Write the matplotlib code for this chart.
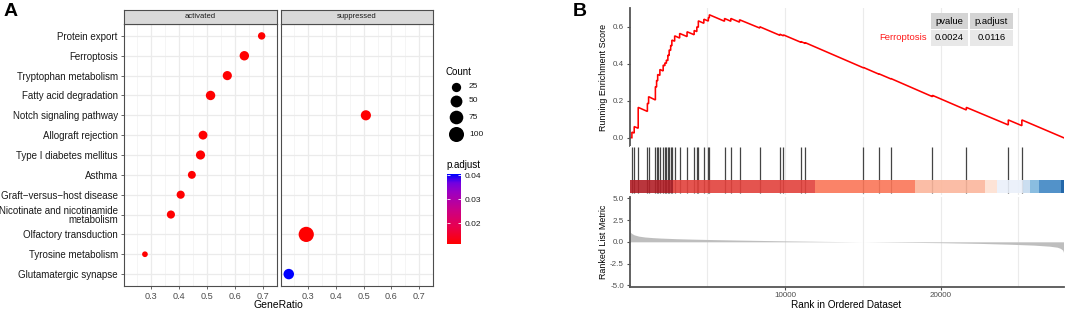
import numpy as np
import matplotlib
matplotlib.use("Agg")
import matplotlib.pyplot as plt
from matplotlib.colors import LinearSegmentedColormap, Normalize
from matplotlib.patches import Rectangle
import matplotlib as mpl

plt.rcParams['font.family'] = ['Liberation Sans', 'DejaVu Sans']

# ---------------- data: panel A (dot plot) ----------------
pathways = ["Protein export", "Ferroptosis", "Tryptophan metabolism",
            "Fatty acid degradation", "Notch signaling pathway",
            "Allograft rejection", "Type I diabetes mellitus", "Asthma",
            "Graft\u2212versus\u2212host disease",
            "Nicotinate and nicotinamide\nmetabolism",
            "Olfactory transduction", "Tyrosine metabolism",
            "Glutamatergic synapse"]
group = ["activated", "activated", "activated", "activated", "suppressed",
         "activated", "activated", "activated", "activated", "activated",
         "suppressed", "activated", "suppressed"]
gene_ratio = [0.695, 0.633, 0.572, 0.512, 0.508, 0.485, 0.476, 0.445,
              0.405, 0.370, 0.293, 0.277, 0.230]
counts = [15, 26, 24, 26, 32, 22, 24, 17, 18, 18, 103, 12, 35]
p_adjust = [0.0114, 0.0116, 0.0116, 0.0116, 0.0116, 0.0116, 0.0116, 0.0116,
            0.0116, 0.0116, 0.0114, 0.0116, 0.0403]
facets = ["activated", "suppressed"]
x_ticks_a = [0.3, 0.4, 0.5, 0.6, 0.7]
count_breaks = [25, 50, 75, 100]
padj_breaks = [0.02, 0.03, 0.04]

# ---------------- data: panel B (GSEA plot) ----------------
n_genes = 27900
hit_rank = [154, 302, 559, 1150, 1227, 1664, 1741, 1811, 1953, 2165, 2274,
            2370, 2466, 2550, 2646, 2723, 2903, 3224, 3700, 4156, 4329, 4425,
            4779, 5068, 5132, 6108, 6513, 7072, 8376, 9660, 9898, 11022,
            11298, 15036, 16051, 16803, 19475, 21652, 24350, 25223]
es_before = [0.000, 0.025, 0.051, 0.142, 0.184, 0.204, 0.274, 0.308, 0.337,
             0.361, 0.389, 0.402, 0.417, 0.444, 0.472, 0.497, 0.522, 0.539,
             0.547, 0.557, 0.574, 0.597, 0.619, 0.631, 0.648, 0.630, 0.630,
             0.625, 0.593, 0.554, 0.551, 0.516, 0.510, 0.378, 0.343, 0.318,
             0.222, 0.150, 0.069, 0.065]
es_after = [0.030, 0.060, 0.164, 0.186, 0.222, 0.276, 0.310, 0.342, 0.369,
            0.393, 0.405, 0.420, 0.447, 0.475, 0.500, 0.528, 0.551, 0.564,
            0.573, 0.580, 0.600, 0.632, 0.641, 0.650, 0.665, 0.645, 0.645,
            0.638, 0.600, 0.560, 0.556, 0.520, 0.514, 0.380, 0.345, 0.320,
            0.229, 0.164, 0.096, 0.096]
es_start, es_end = 0.0, 0.0

metric_rank = [0, 50, 150, 300, 600, 1000, 1500, 2000, 3000, 4000, 5000, 7000,
               10000, 12500, 14500, 15500, 17500, 20000, 22500, 24500, 26000,
               27000, 27500, 27700, 27850, 27900]
metric_val = [1.4, 1.1, 0.95, 0.8, 0.65, 0.55, 0.48, 0.43, 0.36, 0.31, 0.27,
              0.2, 0.11, 0.05, 0.01, -0.01, -0.05, -0.1, -0.18, -0.28, -0.38,
              -0.5, -0.62, -0.75, -0.95, -1.2]

bar_edges = [0, 2770, 11930, 18350, 22830, 23600, 25270, 25740, 26320, 27710, 27900]
bar_colors = ['#B22028', '#E2413C', '#FA7658', '#FBB69C', '#FDE0D2',
              '#EAF0FA', '#C6DBEF', '#7DB6DD', '#3F86C4', '#0B56A0']

table_term = "Ferroptosis"
table_cols = ["pvalue", "p.adjust"]
table_vals = ["0.0024", "0.0116"]

# ---------------- figure ----------------
W, H = 1065, 311
fig = plt.figure(figsize=(W / 100, H / 100), dpi=100)


def px_axes(x0, y0, x1, y1, **kw):
    return fig.add_axes([x0 / W, 1 - y1 / H, (x1 - x0) / W, (y1 - y0) / H], **kw)


# colour scale red -> blue (Lab-like interpolation)
cmap = LinearSegmentedColormap.from_list(
    "rb", [(0, (1, 0, 0)), (0.25, (232/255, 0, 79/255)), (0.5, (201/255, 0, 137/255)),
           (0.75, (154/255, 0, 195/255)), (0.875, (115/255, 0, 224/255)), (1, (0, 0, 1))])
norm = Normalize(vmin=min(p_adjust), vmax=max(p_adjust))

cmin, cmax = min(counts), max(counts)


def size_px(c):
    t = np.clip((np.asarray(c, float) - cmin) / (cmax - cmin), 0, 1)
    return 1.9 * (3 + 5 * np.sqrt(t))


def s_area(c):
    return (size_px(c) * 0.72) ** 2


n = len(pathways)
ypos = {p: n - 1 - i for i, p in enumerate(pathways)}
panel_x = {"activated": (124, 277), "suppressed": (281, 433)}
for fi, fac in enumerate(facets):
    x0, x1 = panel_x[fac]
    ax = px_axes(x0, 24, x1, 286)
    ax.set_xlim(0.202, 0.727)
    ax.set_ylim(-0.6, n - 1 + 0.6)
    ax.set_xticks(x_ticks_a)
    ax.set_xticklabels([f"{v:.1f}" for v in x_ticks_a])
    ax.set_xticks([0.25, 0.35, 0.45, 0.55, 0.65, 0.75], minor=True)
    ax.set_yticks(list(range(n)))
    ax.grid(which='major', color='#EBEBEB', lw=0.9)
    ax.grid(which='minor', axis='x', color='#F2F2F2', lw=0.5)
    ax.set_axisbelow(True)
    for s in ax.spines.values():
        s.set_color('#4D4D4D')
        s.set_linewidth(0.8)
    ax.tick_params(axis='both', which='major', length=2.5, width=0.6,
                   color='#4D4D4D', labelsize=6.6, labelcolor='#4D4D4D', pad=2)
    ax.tick_params(axis='x', which='minor', length=0)
    if fi == 0:
        ax.set_yticklabels([pathways[n - 1 - k] for k in range(n)],
                           fontsize=7, color='#1A1A1A', linespacing=0.95)
    else:
        ax.set_yticklabels([])
        ax.tick_params(axis='y', length=0)
    xs = [gene_ratio[i] for i in range(n) if group[i] == fac]
    ys = [ypos[pathways[i]] for i in range(n) if group[i] == fac]
    cs = [counts[i] for i in range(n) if group[i] == fac]
    ps = [p_adjust[i] for i in range(n) if group[i] == fac]
    ax.scatter(xs, ys, s=s_area(cs), c=ps, cmap=cmap, norm=norm,
               linewidths=0, zorder=3)
    sax = px_axes(x0, 10, x1, 24)
    sax.set_facecolor('#D9D9D9')
    sax.set_xticks([]); sax.set_yticks([])
    for s in sax.spines.values():
        s.set_color('#4D4D4D'); s.set_linewidth(0.8)
    sax.text(0.5, 0.5, fac, ha='center', va='center', fontsize=5.5,
             color='#1A1A1A', transform=sax.transAxes)

fig.text(278.5 / W, 1 - 305 / H, "GeneRatio", ha='center', va='center',
         fontsize=7.5, color='black')

# Overlay axes in pixel coordinates for legends / labels / table
ov = fig.add_axes([0, 0, 1, 1], facecolor='none')
ov.set_xlim(0, W); ov.set_ylim(H, 0); ov.axis('off')
ov.set_zorder(10)

ov.text(446, 72, "Count", ha='left', va='center', fontsize=7, color='black')
leg_y = [87, 101, 117.3, 134.3]
for cb_, yy in zip(count_breaks, leg_y):
    ov.scatter([455.5], [yy], s=s_area([cb_]), color='black', linewidths=0)
    ov.text(469, yy, str(cb_), ha='left', va='center', fontsize=6, color='#1A1A1A')

ov.text(446, 165, "p.adjust", ha='left', va='center', fontsize=7, color='black')
cax = px_axes(446.7, 174.3, 460.7, 244)
cb = mpl.colorbar.ColorbarBase(cax, cmap=cmap, norm=norm, orientation='vertical')
cb.outline.set_visible(False)
cb.set_ticks(padj_breaks)
cb.set_ticklabels([f"{v:.2f}" for v in padj_breaks])
cax.tick_params(left=True, right=True, labelleft=False, labelright=True,
                direction='in', color='white', length=2.5, width=0.6,
                labelsize=6, labelcolor='#1A1A1A', pad=3)

ov.text(4, 11, "A", ha='left', va='center', fontsize=14, fontweight='bold')
ov.text(573, 11, "B", ha='left', va='center', fontsize=14, fontweight='bold')

# ---------------- panel B ----------------
es_x = [0]
es_y = [es_start]
for r, b, a in zip(hit_rank, es_before, es_after):
    es_x += [r, r]
    es_y += [b, a]
es_x.append(n_genes)
es_y.append(es_end)

XL = (629.5, 1063.5)
grid_kw = dict(color='#EBEBEB', lw=0.8)

axT = px_axes(XL[0], 8, XL[1], 146)
axT.plot(es_x, es_y, color='#FF0000', lw=1.15, solid_joinstyle='miter')
axT.set_xlim(0, n_genes)
axT.set_ylim(-0.045, 0.7016)
axT.set_yticks([0, 0.2, 0.4, 0.6])
axT.set_yticklabels(["0.0", "0.2", "0.4", "0.6"])
axT.set_xticks([10000, 20000])
axT.set_xticks([5000, 15000, 25000], minor=True)
axT.xaxis.grid(True, which='both', **grid_kw)
axT.set_axisbelow(True)
axT.tick_params(axis='x', which='both', length=0, labelbottom=False)
axT.tick_params(axis='y', length=2, width=0.8, color='#4D4D4D', labelsize=5.8,
                labelcolor='#4D4D4D', pad=2)
for k in ['top', 'right', 'bottom']:
    axT.spines[k].set_visible(False)
axT.spines['left'].set_color('#555555')
axT.spines['left'].set_linewidth(1.3)

axM = px_axes(XL[0], 146, XL[1], 195)
axM.set_xlim(0, n_genes)
axM.set_ylim(0, 49)
axM.set_xticks([10000, 20000])
axM.set_xticks([5000, 15000, 25000], minor=True)
axM.xaxis.grid(True, which='both', **grid_kw)
axM.set_axisbelow(True)
axM.tick_params(axis='both', which='both', length=0, labelbottom=False, labelleft=False)
for s in axM.spines.values():
    s.set_visible(False)
axM.vlines(hit_rank, 2, 48, color='#444444', lw=0.9, zorder=2)
for i, col in enumerate(bar_colors):
    axM.add_patch(Rectangle((bar_edges[i], 2), bar_edges[i + 1] - bar_edges[i], 13.5,
                            facecolor=col, edgecolor='none', alpha=0.9, zorder=3))

axB = px_axes(XL[0], 196.5, XL[1], 286.7)
axB.fill_between(metric_rank, 0, metric_val, color='#BEBEBE', lw=0)
axB.set_xlim(0, n_genes)
axB.set_ylim(-5.15, 5.2)
axB.set_yticks([-5, -2.5, 0, 2.5, 5])
axB.set_yticklabels(["-5.0", "-2.5", "0.0", "2.5", "5.0"])
axB.set_xticks([10000, 20000])
axB.set_xticklabels(["10000", "20000"])
axB.set_xticks([5000, 15000, 25000], minor=True)
axB.xaxis.grid(True, which='both', **grid_kw)
axB.set_axisbelow(True)
axB.tick_params(axis='both', which='major', length=2, width=0.8, color='#4D4D4D',
                labelsize=5.8, labelcolor='#4D4D4D', pad=2)
axB.tick_params(axis='x', which='minor', length=0)
for k in ['top', 'right']:
    axB.spines[k].set_visible(False)
for k in ['left', 'bottom']:
    axB.spines[k].set_color('#555555')
    axB.spines[k].set_linewidth(1.3)

fig.text(604 / W, 1 - 77 / H, "Running Enrichment Score", rotation=90,
         ha='center', va='center', fontsize=6.4, color='black')
fig.text(604 / W, 1 - 241.6 / H, "Ranked List Metric", rotation=90,
         ha='center', va='center', fontsize=6.4, color='black')
fig.text(846.5 / W, 1 - 305 / H, "Rank in Ordered Dataset", ha='center',
         va='center', fontsize=7.2, color='black')

# table
ov.add_patch(Rectangle((931, 13), 37, 16, facecolor='#D4D4D4', edgecolor='none'))
ov.add_patch(Rectangle((969.5, 13), 43.5, 16, facecolor='#D4D4D4', edgecolor='none'))
ov.add_patch(Rectangle((931, 30), 37, 16, facecolor='#E8E8E8', edgecolor='none'))
ov.add_patch(Rectangle((969.5, 30), 43.5, 16, facecolor='#E8E8E8', edgecolor='none'))
ov.text(949.5, 21, table_cols[0], ha='center', va='center', fontsize=6.8, color='black')
ov.text(991.2, 21, table_cols[1], ha='center', va='center', fontsize=6.8, color='black')
ov.text(949.5, 38, table_vals[0], ha='center', va='center', fontsize=6.8, color='black')
ov.text(991.2, 38, table_vals[1], ha='center', va='center', fontsize=6.8, color='black')
ov.text(927, 38, table_term, ha='right', va='center', fontsize=6.8, color='#FF1A1A')

fig.savefig("out.png", dpi=100)
